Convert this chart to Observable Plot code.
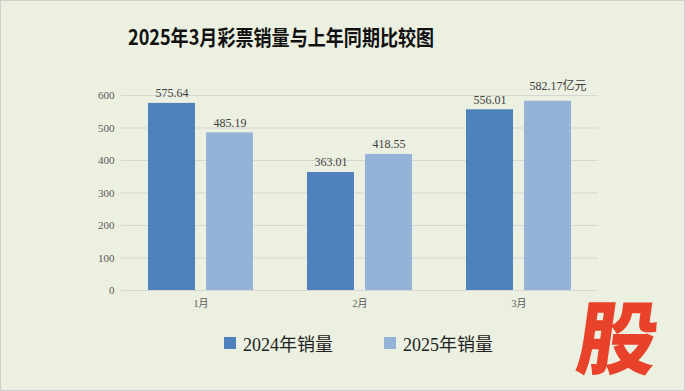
<!DOCTYPE html>
<html>
<head>
<meta charset="utf-8">
<script src="https://cdn.jsdelivr.net/npm/d3@7"></script>
<script src="https://cdn.jsdelivr.net/npm/@observablehq/plot@0.6"></script>
<style>
  html, body { margin: 0; padding: 0; background: #EBF0E0; }
  #wrap { position: relative; width: 685px; height: 391px; box-sizing: border-box; border: 1px solid #CFCFCF; background: #EBF0E0; overflow: hidden; }
  #title { position: absolute; left: 127px; top: 20px; font-family: "Noto Sans CJK SC", sans-serif; font-weight: 700; font-size: 21px; line-height: 30px; color: #111; white-space: nowrap; transform: scaleX(0.86); transform-origin: 0 50%; }
  #chart { position: absolute; left: -2px; top: 59px; }
  #legend { position: absolute; top: 329px; left: 0; width: 685px; height: 26px; font-family: "Liberation Serif", "Noto Sans CJK SC", serif; font-size: 18px; color: #222; }
  .item { position: absolute; top: 0; display: flex; align-items: center; height: 26px; white-space: nowrap; }
  .sw { width: 12px; height: 12px; margin-right: 7px; }
  #mark { position: absolute; left: 578px; top: 282px; font-family: "Noto Sans CJK SC", sans-serif; font-weight: 900; font-size: 80px; line-height: 100px; color: #E8432A; transform: skewX(-8deg); }
</style>
</head>
<body>
<div id="wrap">
  <div id="title"></div>
  <div id="chart"></div>
  <div id="legend"></div>
  <div id="mark">股</div>
</div>
<script>
const titleText = "2025年3月彩票销量与上年同期比较图";
const months = ["1月", "2月", "3月"];
const sales2024 = [575.64, 363.01, 556.01];
const sales2025 = [485.19, 418.55, 582.17];
const seriesNames = ["2024年销量", "2025年销量"];
const seriesColors = ["#4F81BD", "#95B3D7"];
const yTicks = [0, 100, 200, 300, 400, 500, 600];
const unit = "亿元";

document.getElementById("title").textContent = titleText;

const data = months.flatMap((m, i) => [
  { month: m, series: seriesNames[0], value: sales2024[i] },
  { month: m, series: seriesNames[1], value: sales2025[i] }
]);
const lastDatum = data[data.length - 1];
const restData = data.slice(0, -1);

const chart = Plot.plot({
  width: 685,
  height: 256,
  marginLeft: 121,
  marginRight: 85,
  marginTop: 35,
  marginBottom: 26,
  style: { background: "transparent", fontFamily: "'Liberation Serif', 'Noto Sans CJK SC', serif", color: "#595959" },
  fx: { domain: months, padding: 0, label: null },
  x: { domain: seriesNames, paddingInner: 0.19, paddingOuter: 0.45, axis: null },
  y: { domain: [0, 600], label: null },
  color: { domain: seriesNames, range: seriesColors },
  marks: [
    Plot.ruleY(yTicks, { stroke: "#D6D6D6", strokeWidth: 1 }),
    Plot.axisY({ ticks: yTicks, tickSize: 0, tickPadding: 7, fontSize: 11, label: null }),
    Plot.axisFx({ anchor: "bottom", tickSize: 0, tickPadding: 9, fontSize: 10, label: null }),
    Plot.barY(data, { fx: "month", x: "series", y: "value", fill: "series" }),
    Plot.text(restData, { fx: "month", x: "series", y: "value", text: d => d.value.toFixed(2), dy: -10, fontSize: 12, fill: "#404040" }),
    Plot.text([lastDatum], { fx: "month", x: "series", y: "value", text: d => d.value.toFixed(2) + unit, dx: 10, dy: -15, fontSize: 12, fill: "#404040" })
  ]
});
document.getElementById("chart").appendChild(chart);

const legend = document.getElementById("legend");
const legendX = [223, 383];
seriesNames.forEach((name, i) => {
  const item = document.createElement("div");
  item.className = "item";
  item.style.left = legendX[i] + "px";
  const sw = document.createElement("div");
  sw.className = "sw";
  sw.style.background = seriesColors[i];
  const t = document.createElement("span");
  t.textContent = name;
  item.appendChild(sw);
  item.appendChild(t);
  legend.appendChild(item);
});
</script>
</body>
</html>
